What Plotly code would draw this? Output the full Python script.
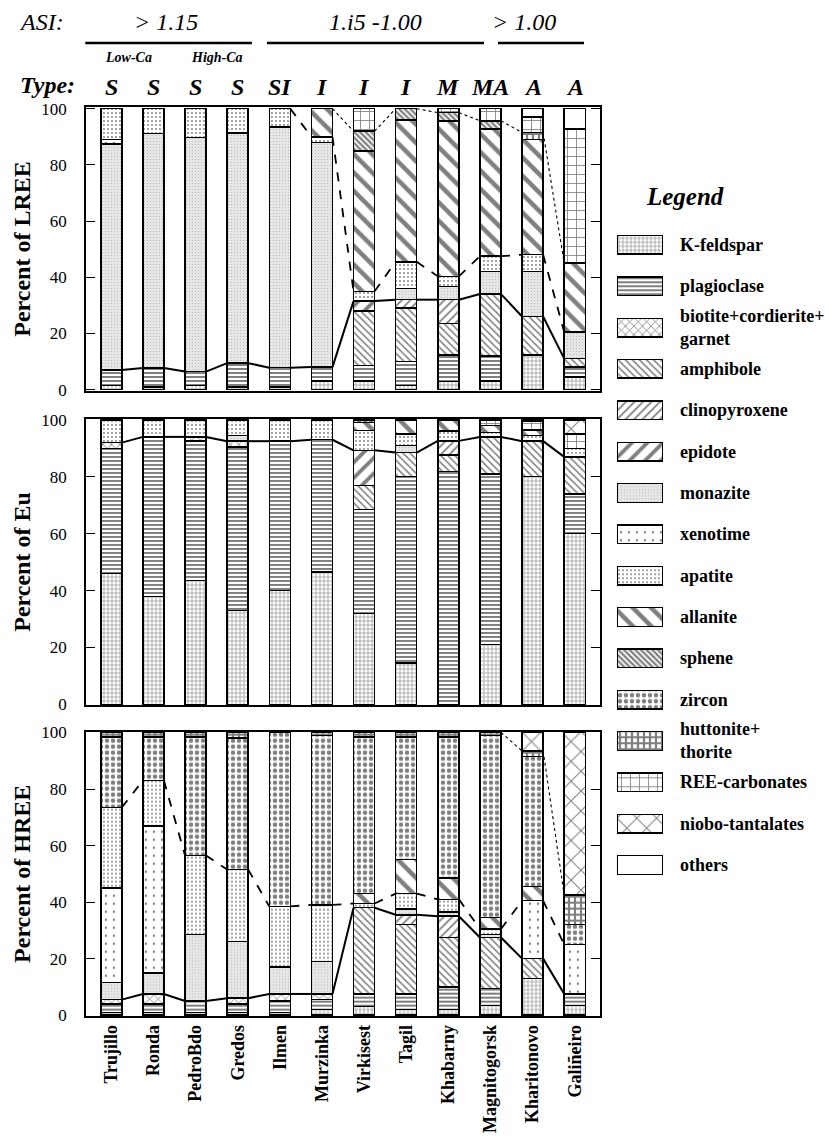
import plotly.graph_objects as go
import numpy as np

# ---------------- data ----------------
sites = ["Trujillo", "Ronda", "PedroBdo", "Gredos", "Ilmen", "Murzinka",
         "Virkisest", "Tagil", "Khabarny", "Magnitogorsk", "Kharitonovo", "Galiñeiro"]
type_labels = ["S", "S", "S", "S", "SI", "I", "I", "I", "M", "MA", "A", "A"]
minerals = ["K-feldspar", "plagioclase", "biotite+cordierite+garnet", "amphibole",
            "clinopyroxene", "epidote", "monazite", "xenotime", "apatite", "allanite",
            "sphene", "zircon", "huttonite+thorite", "REE-carbonates",
            "niobo-tantalates", "others"]
legend_labels = ["K-feldspar", "plagioclase", "biotite+cordierite+<br>garnet", "amphibole",
                 "clinopyroxene", "epidote", "monazite", "xenotime", "apatite", "allanite",
                 "sphene", "zircon", "huttonite+<br>thorite", "REE-carbonates",
                 "niobo-tantalates", "others"]
y_ticks = [0, 20, 40, 60, 80, 100]
legend_swatch = [1] * 16

# LREE (% of LREE)
LREE_KFS = [1.5, 1, 1.5, 1, 1, 3, 3, 1.5, 2.8, 3, 12.3, 4.5]
LREE_PLG = [5.5, 6.7, 4.9, 8.4, 6.8, 5, 5.5, 8.5, 9.5, 9, 0, 3.5]
LREE_BIO = [0, 0, 0, 0, 0, 0, 0, 0, 0, 0, 0, 0]
LREE_AMP = [0, 0, 0, 0, 0, 0, 19.5, 19, 11.3, 22, 13.7, 3]
LREE_CPX = [0, 0, 0, 0, 0, 0, 0, 3, 8.4, 0, 0, 0]
LREE_EPI = [0, 0, 0, 0, 0, 0, 3.5, 0, 0, 0, 0, 0]
LREE_MON = [80.5, 83.5, 83.3, 82, 85.7, 80, 0, 4, 4.7, 8, 16, 9.5]
LREE_XEN = [1.5, 0, 0, 0, 0, 0, 0, 0, 0, 0, 0, 0]
LREE_APA = [11, 8.8, 10.3, 8.6, 6.5, 2, 3.5, 9.5, 3.6, 5.5, 6, 0]
LREE_ALL = [0, 0, 0, 0, 0, 10, 50, 50.5, 55.3, 45.2, 41, 24.5]
LREE_SPH = [0, 0, 0, 0, 0, 0, 7, 4, 3, 3, 0, 0]
LREE_ZIR = [0, 0, 0, 0, 0, 0, 0, 0, 0, 0, 0, 0]
LREE_HUT = [0, 0, 0, 0, 0, 0, 0, 0, 0, 0, 2.5, 0]
LREE_REE = [0, 0, 0, 0, 0, 0, 8, 0, 1.4, 4.3, 5.5, 47.7]
LREE_NIO = [0, 0, 0, 0, 0, 0, 0, 0, 0, 0, 0, 0]
LREE_OTH = [0, 0, 0, 0, 0, 0, 0, 0, 0, 0, 3, 7.3]

# Eu (% of Eu)
EU_KFS = [46, 38, 43.5, 33, 40, 46.5, 32, 14.6, 0, 21, 80, 60]
EU_PLG = [44, 56, 49, 57.5, 52.5, 46.5, 36.5, 65.4, 81.8, 60, 0, 14]
EU_BIO = [2, 0, 1.5, 2, 0, 0, 0, 0, 0, 0, 0, 0]
EU_AMP = [0, 0, 0, 0, 0, 0, 8.5, 8.5, 5.8, 13, 12.5, 13]
EU_CPX = [0, 0, 0, 0, 0, 0, 0, 0, 5, 0, 0, 0]
EU_EPI = [0, 0, 0, 0, 0, 0, 12.3, 0, 0, 0, 0, 0]
EU_MON = [0, 0, 0, 2, 0, 0, 0, 2.5, 0, 0, 0, 0]
EU_XEN = [0, 0, 0, 0, 0, 0, 0, 0, 0, 0, 0, 0]
EU_APA = [8, 6, 6, 5.5, 7.5, 7, 7, 4, 3.4, 1.5, 2, 3]
EU_ALL = [0, 0, 0, 0, 0, 0, 2.7, 5, 4, 2.5, 2, 0]
EU_SPH = [0, 0, 0, 0, 0, 0, 0, 0, 0, 0, 0, 0]
EU_ZIR = [0, 0, 0, 0, 0, 0, 1, 0, 0, 0, 0, 0]
EU_HUT = [0, 0, 0, 0, 0, 0, 0, 0, 0, 0, 0, 0]
EU_REE = [0, 0, 0, 0, 0, 0, 0, 0, 0, 2, 3, 5]
EU_NIO = [0, 0, 0, 0, 0, 0, 0, 0, 0, 0, 0, 5]
EU_OTH = [0, 0, 0, 0, 0, 0, 0, 0, 0, 0, 0.5, 0]

# HREE (% of HREE)
HREE_KFS = [1, 1, 1, 1, 1, 2, 3, 2, 2, 3.5, 13, 3.5]
HREE_PLG = [3, 3, 4, 3, 4, 3.5, 4.5, 5.5, 8, 6, 0, 4]
HREE_BIO = [1.5, 3.5, 0, 2, 2.5, 2, 0, 0, 0, 0, 0, 0]
HREE_AMP = [0, 0, 0, 0, 0, 0, 30.5, 24.5, 17.5, 18, 7, 0]
HREE_CPX = [0, 0, 0, 0, 0, 0, 0, 3.5, 7.5, 0, 0, 0]
HREE_EPI = [0, 0, 0, 0, 0, 0, 0, 0, 0, 0, 0, 0]
HREE_MON = [6, 7.5, 23.5, 20, 9.5, 11.5, 0, 2, 1.5, 1, 0, 0]
HREE_XEN = [33.5, 52, 0, 0, 0, 0, 0, 0, 0, 0, 20.5, 17.5]
HREE_APA = [28.5, 16, 28, 25.5, 21.5, 20, 1.5, 5.5, 4.5, 2, 0, 0]
HREE_ALL = [0, 0, 0, 0, 0, 0, 3.5, 12, 7.5, 4, 5, 0]
HREE_SPH = [0, 0, 0, 0, 0, 0, 0, 0, 0, 0, 0, 0]
HREE_ZIR = [25, 15.5, 42, 46.5, 61.5, 60, 55.5, 43.5, 50, 64.5, 46, 7]
HREE_HUT = [1.5, 1.5, 1.5, 2, 0, 1, 1.5, 1.5, 1.5, 1, 2, 10.5]
HREE_REE = [0, 0, 0, 0, 0, 0, 0, 0, 0, 0, 0, 0]
HREE_NIO = [0, 0, 0, 0, 0, 0, 0, 0, 0, 0, 6.5, 57.5]
HREE_OTH = [0, 0, 0, 0, 0, 0, 0, 0, 0, 0, 0, 0]

LREE = [LREE_KFS, LREE_PLG, LREE_BIO, LREE_AMP, LREE_CPX, LREE_EPI, LREE_MON, LREE_XEN,
        LREE_APA, LREE_ALL, LREE_SPH, LREE_ZIR, LREE_HUT, LREE_REE, LREE_NIO, LREE_OTH]
EU = [EU_KFS, EU_PLG, EU_BIO, EU_AMP, EU_CPX, EU_EPI, EU_MON, EU_XEN,
      EU_APA, EU_ALL, EU_SPH, EU_ZIR, EU_HUT, EU_REE, EU_NIO, EU_OTH]
HREE = [HREE_KFS, HREE_PLG, HREE_BIO, HREE_AMP, HREE_CPX, HREE_EPI, HREE_MON, HREE_XEN,
        HREE_APA, HREE_ALL, HREE_SPH, HREE_ZIR, HREE_HUT, HREE_REE, HREE_NIO, HREE_OTH]

# ---------------- styles ----------------
patterns = [
    dict(shape="+", size=4, solidity=0.35, fgcolor="#333333", bgcolor="white"),  # K-feldspar
    dict(shape="-", size=4, solidity=0.5, fgcolor="black", bgcolor="white"),     # plagioclase
    dict(shape="x", size=6, solidity=0.25, fgcolor="black", bgcolor="white"),    # biotite
    dict(shape="\\", size=5, solidity=0.3, fgcolor="black", bgcolor="white"),    # amphibole
    dict(shape="/", size=6, solidity=0.3, fgcolor="black", bgcolor="white"),     # clinopyroxene
    dict(shape="/", size=11, solidity=0.35, fgcolor="black", bgcolor="white"),   # epidote
    dict(shape=".", size=3, solidity=0.12, fgcolor="#808080", bgcolor="#e6e6e6"),# monazite
    dict(shape=".", size=8, solidity=0.07, fgcolor="black", bgcolor="white"),    # xenotime
    dict(shape=".", size=4, solidity=0.18, fgcolor="black", bgcolor="white"),    # apatite
    dict(shape="\\", size=13, solidity=0.35, fgcolor="black", bgcolor="white"),  # allanite
    dict(shape="\\", size=4, solidity=0.55, fgcolor="black", bgcolor="white"),   # sphene
    dict(shape=".", size=6, solidity=0.45, fgcolor="black", bgcolor="white"),    # zircon
    dict(shape="+", size=6, solidity=0.6, fgcolor="black", bgcolor="white"),     # huttonite
    dict(shape="+", size=9, solidity=0.18, fgcolor="black", bgcolor="white"),    # REE-carbonates
    dict(shape="x", size=14, solidity=0.14, fgcolor="black", bgcolor="white"),   # niobo-tantalates
    dict(shape="", fgcolor="black", bgcolor="white"),                           # others
]
SERIF = "Liberation Serif"

fig = go.Figure()
xpos = list(range(len(sites)))
panels = [(LREE, "x", "y"), (EU, "x2", "y2"), (HREE, "x3", "y3")]

for vals, xa, ya in panels:
    for k, m in enumerate(minerals):
        yv = [v if v > 0 else None for v in vals[k]]
        fig.add_trace(go.Bar(
            x=xpos, y=yv, width=0.5, name=m, xaxis=xa, yaxis=ya, showlegend=False,
            marker=dict(color="white", line=dict(color="black", width=1.5),
                        pattern=patterns[k])))

# boundary lines between bars (derived from cumulative sums)
line_specs = {
    0: [(5, 0, "solid", 2.0), (8, 4, "dash", 1.8), (12, 5, "dot", 1.1)],
    1: [(5, 0, "solid", 2.0)],
    2: [(5, 0, "solid", 2.0), (8, 0, "dash", 1.8), (12, 9, "dot", 1.1)],
}
for p, (vals, xa, ya) in enumerate(panels):
    cum = np.cumsum(np.array(vals, dtype=float), axis=0)
    for upto, start, dash, w in line_specs[p]:
        b = cum[upto]
        xs, ys = [], []
        for i in range(start, len(sites) - 1):
            xs += [xpos[i] + 0.25, xpos[i + 1] - 0.25, None]
            ys += [b[i], b[i + 1], None]
        fig.add_trace(go.Scatter(x=xs, y=ys, mode="lines", xaxis=xa, yaxis=ya,
                                 showlegend=False, hoverinfo="skip",
                                 line=dict(color="black", width=w, dash=dash)))

# custom legend (swatches)
for k, m in enumerate(minerals):
    fig.add_trace(go.Bar(
        x=[legend_swatch[k]], y=[m], orientation="h", width=0.45, xaxis="x4", yaxis="y4",
        showlegend=False, hoverinfo="skip",
        marker=dict(color="white", line=dict(color="black", width=1.5), pattern=patterns[k])))

# ---------------- layout ----------------
xdom = [0, 0.7003]
common_y = dict(tickvals=y_ticks, ticks="inside", ticklen=9, tickwidth=1.4, tickcolor="black",
                showline=True, linewidth=1.5, linecolor="black", mirror="ticks",
                showgrid=False, zeroline=False, ticklabelstandoff=14,
                tickfont=dict(family=SERIF, size=17, color="black"))
common_x = dict(range=[-0.6, 11.6], tickvals=xpos, ticktext=sites, ticks="",
                showline=True, linewidth=1.5, linecolor="black", mirror=True,
                showgrid=False, zeroline=False, domain=xdom)
title_font = dict(family=SERIF, size=24, color="black", weight="bold")

fig.update_layout(
    width=825, height=1143, margin=dict(l=86, r=5, t=107, b=127),
    barmode="stack", plot_bgcolor="white", paper_bgcolor="white", showlegend=False,
    font=dict(family=SERIF, color="black"),
    xaxis=dict(common_x, anchor="y", showticklabels=False),
    xaxis2=dict(common_x, anchor="y2", showticklabels=False),
    xaxis3=dict(common_x, anchor="y3", showticklabels=True, tickangle=-90,
                tickfont=dict(family=SERIF, size=18, color="black", weight="bold")),
    yaxis=dict(common_y, domain=[0.6876, 1.0], range=[-0.5, 100.6], anchor="x",
               title=dict(text="Percent of LREE", font=title_font, standoff=4)),
    yaxis2=dict(common_y, domain=[0.3421, 0.6568], range=[-0.2, 100.3], anchor="x2",
                title=dict(text="Percent of Eu", font=title_font, standoff=4)),
    yaxis3=dict(common_y, domain=[0.0, 0.3128], range=[-0.3, 100.3], anchor="x3",
                title=dict(text="Percent of HREE", font=title_font, standoff=4)),
    xaxis4=dict(domain=[0.7234, 0.7861], range=[0, 1], visible=False, anchor="y4"),
    yaxis4=dict(domain=[0.1434, 0.8710], type="category", categoryarray=minerals,
                categoryorder="array", autorange="reversed", visible=False, anchor="x4"),
)

annotations = []
# legend labels
for k, m in enumerate(minerals):
    annotations.append(dict(x=legend_swatch[k], y=m, xref="x4", yref="y4", text=legend_labels[k],
                            showarrow=False, xanchor="left", yanchor="middle", xshift=15,
                            align="left",
                            font=dict(family=SERIF, size=18, color="black", weight="bold")))
annotations.append(dict(x=0.816, y=0.901, xref="paper", yref="paper", text="Legend",
                        showarrow=False, xanchor="center", yanchor="middle",
                        font=dict(family=SERIF, size=25, color="black", weight="bold",
                                  style="italic")))
# header
hdr_font = dict(family=SERIF, size=24, color="black", style="italic")
type_font = dict(family=SERIF, size=24, color="black", style="italic", weight="bold")
annotations += [
    dict(x=-0.094, y=1.0935, xref="paper", yref="paper", text="ASI:", showarrow=False,
         xanchor="left", yanchor="middle", font=hdr_font),
    dict(x=0.109, y=1.0935, xref="paper", yref="paper", text="> 1.15", showarrow=False,
         xanchor="center", yanchor="middle", font=hdr_font),
    dict(x=0.395, y=1.0935, xref="paper", yref="paper", text="1.i5 -1.00", showarrow=False,
         xanchor="center", yanchor="middle", font=hdr_font),
    dict(x=0.597, y=1.0935, xref="paper", yref="paper", text="> 1.00", showarrow=False,
         xanchor="center", yanchor="middle", font=hdr_font),
    dict(x=-0.093, y=1.024, xref="paper", yref="paper", text="Type:", showarrow=False,
         xanchor="left", yanchor="middle", font=type_font),
    dict(x=0.4, y=1.054, xref="x", yref="paper", text="Low-Ca", showarrow=False,
         xanchor="center", yanchor="middle",
         font=dict(family=SERIF, size=14, color="black", style="italic", weight="bold")),
    dict(x=2.5, y=1.054, xref="x", yref="paper", text="High-Ca", showarrow=False,
         xanchor="center", yanchor="middle",
         font=dict(family=SERIF, size=14, color="black", style="italic", weight="bold")),
]
for i, t in enumerate(type_labels):
    annotations.append(dict(x=xpos[i], y=1.022, xref="x", yref="paper", text=t,
                            showarrow=False, xanchor="center", yanchor="middle",
                            font=type_font))
fig.update_layout(annotations=annotations)

shapes = []
for x0, x1 in [(-0.001, 0.226), (0.2466, 0.5422), (0.5613, 0.6785)]:
    shapes.append(dict(type="line", xref="paper", yref="paper", x0=x0, x1=x1,
                       y0=1.0704, y1=1.0704, line=dict(color="black", width=2.5)))
fig.update_layout(shapes=shapes)

fig.write_html("out.html")
